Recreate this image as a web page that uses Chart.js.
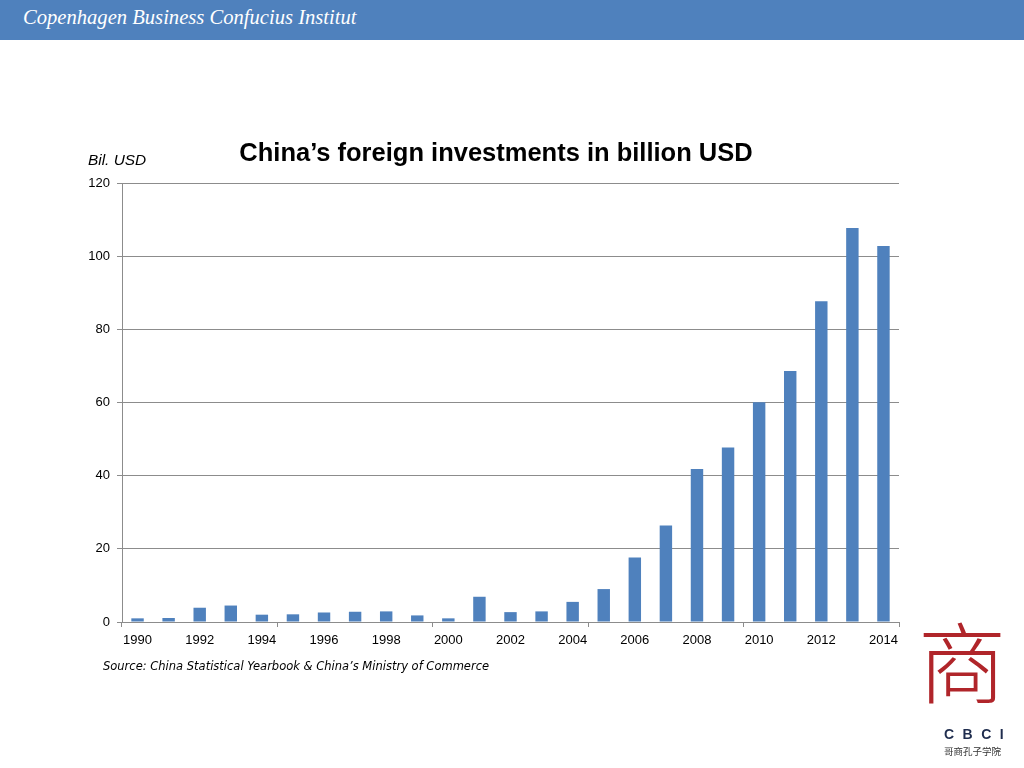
<!DOCTYPE html>
<html>
<head>
<meta charset="utf-8">
<script src="https://cdn.jsdelivr.net/npm/chart.js@4.4.0/dist/chart.umd.min.js"></script>
<style>
  html, body { margin: 0; padding: 0; background: #fff; }
  #wrap { position: relative; width: 1024px; height: 768px; overflow: hidden; background: #fff; }
  #header { position: absolute; left: 0; top: 0; width: 1024px; height: 40px; background: #4F81BD; }
  #header span { position: absolute; left: 23px; top: 6px; font-family: "Liberation Serif", serif; font-style: italic; font-size: 20.6px; color: #fff; }
  #title { position: absolute; left: 0; width: 992px; top: 138px; text-align: center; font-family: "Liberation Sans", Arial, sans-serif; font-weight: bold; font-size: 25.5px; color: #000; }
  #unit { position: absolute; left: 88px; top: 151px; font-family: "Liberation Sans", Arial, sans-serif; font-style: italic; font-size: 15.4px; color: #000; }
  #source { position: absolute; left: 103px; top: 659px; font-family: "DejaVu Sans", Verdana, sans-serif; font-style: italic; font-size: 11.5px; color: #000; }
  #logo1 { position: absolute; left: 918px; top: 614px; font-family: "Noto Sans CJK SC", sans-serif; font-weight: 300; font-size: 88px; color: #B0252A; line-height: 1; }
  #logo2 { position: absolute; left: 944px; top: 726px; font-family: "Liberation Sans", Arial, sans-serif; font-weight: bold; font-size: 14px; letter-spacing: 8.5px; color: #1F2D4E; }
  #logo3 { position: absolute; left: 944px; top: 744px; font-family: "Noto Sans CJK SC", sans-serif; font-size: 9.5px; color: #333; }
  canvas { position: absolute; left: 0; top: 0; }
</style>
</head>
<body>
<div id="wrap">
  <div id="header"><span>Copenhagen Business Confucius Institut</span></div>
  <canvas id="c" width="1024" height="768"></canvas>
  <div id="title">China’s foreign investments in billion USD</div>
  <div id="unit">Bil. USD</div>
  <div id="source">Source: China Statistical Yearbook &amp; China’s Ministry of Commerce</div>
  <div id="logo1">商</div>
  <div id="logo2">CBCI</div>
  <div id="logo3">哥商孔子学院</div>
</div>
<script>
const years = ["1990","1991","1992","1993","1994","1995","1996","1997","1998","1999","2000","2001","2002","2003","2004","2005","2006","2007","2008","2009","2010","2011","2012","2013","2014"];
const investments = [1.0, 1.1, 3.9, 4.5, 2.0, 2.1, 2.6, 2.8, 2.9, 1.8, 1.0, 6.9, 2.7, 2.9, 5.5, 9.0, 17.6, 26.4, 41.8, 47.7, 60.1, 68.6, 87.7, 107.7, 102.8];
const yTicks = [0, 20, 40, 60, 80, 100, 120];

new Chart(document.getElementById('c'), {
  type: 'bar',
  data: {
    labels: years,
    datasets: [{
      data: investments,
      backgroundColor: '#4F81BD',
      borderWidth: 0,
      barPercentage: 0.4,
      categoryPercentage: 1.0
    }]
  },
  options: {
    responsive: false,
    animation: false,
    events: [],
    layout: { padding: { left: 62, right: 125, top: 183, bottom: 106 } },
    plugins: { legend: { display: false }, title: { display: false }, tooltip: { enabled: false } },
    scales: {
      x: {
        offset: true,
        afterFit: s => { s.height = 40; },
        grid: {
          offset: true,
          drawOnChartArea: false,
          tickLength: 5,
          color: ctx => (ctx.index === undefined || ctx.index % 5 === 0) ? '#8c8c8c' : 'rgba(0,0,0,0)'
        },
        border: { display: true, color: '#8c8c8c', width: 1 },
        ticks: {
          autoSkip: false,
          maxRotation: 0,
          padding: 6,
          color: '#000',
          font: { family: '"Liberation Sans", Arial, sans-serif', size: 13 },
          callback: (v, i) => (i % 2 === 0 ? years[i] : '')
        }
      },
      y: {
        min: yTicks[0],
        max: yTicks[yTicks.length - 1],
        afterFit: s => { s.width = 60; },
        afterBuildTicks: s => { s.ticks = yTicks.map(v => ({ value: v })); },
        grid: { color: '#8c8c8c', tickLength: 5, lineWidth: 1 },
        border: { display: true, color: '#8c8c8c', width: 1 },
        ticks: {
          padding: 7,
          color: '#000',
          font: { family: '"Liberation Sans", Arial, sans-serif', size: 13 }
        }
      }
    }
  }
});
</script>
</body>
</html>
